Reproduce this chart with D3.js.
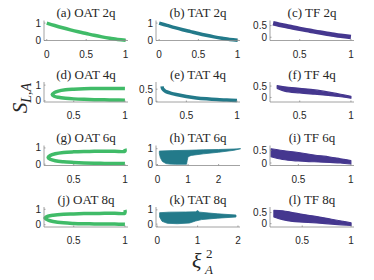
<!DOCTYPE html>
<html>
<head>
<meta charset="utf-8">
<script src="https://cdn.jsdelivr.net/npm/d3@7"></script>
<style>
  body { margin: 0; background: #fff; }
  svg { display: block; }
</style>
</head>
<body>
<svg id="chart" width="374" height="280"></svg>
<script>
// panel titles, row by row
var titles = ["(a) OAT 2q", "(b) TAT 2q", "(c) TF 2q",
              "(d) OAT 4q", "(e) TAT 4q", "(f) TF 4q",
              "(g) OAT 6q", "(h) TAT 6q", "(i) TF 6q",
              "(j) OAT 8q", "(k) TAT 8q", "(l) TF 8q"];

// axis limits and ticks
var xLims = [[-0.035, 1.03], [-0.04, 1.03], [0.21, 1.03],
             [0.21, 1.03], [0.2, 1.03], [0.21, 1.03],
             [0.21, 1.03], [-0.05, 2.7], [0.23, 1.03],
             [0.21, 1.03], [-0.03, 2.05], [0.17, 1.03]];
var yLims = [[0, 1.15], [0, 1.15], [-0.14, 0.72],
             [-0.08, 1.2], [-0.03, 0.8], [-0.2, 0.68],
             [-0.08, 1.15], [-0.05, 1.2], [-0.1, 0.7],
             [-0.15, 1.15], [-0.2, 1.2], [-0.15, 0.75]];
var xTicks = [[0, 0.5, 1], [0, 0.5, 1], [0.5, 1],
              [0.5, 1], [0.5, 1], [0.5, 1],
              [0.5, 1], [0, 1, 2], [0.5, 1],
              [0.5, 1], [0, 1, 2], [0.5, 1]];
var yTicks = [[0, 1], [0, 1], [0, 0.5],
              [0, 1], [0, 0.5], [0, 0.5],
              [0, 1], [0, 1], [0, 0.5],
              [0, 1], [0, 1], [0, 0.5]];

// (a) OAT 2q, (b) TAT 2q : single decaying curve
var oat2X = [0, 0.1, 0.2, 0.3, 0.4, 0.5, 0.6, 0.7, 0.8, 0.9, 1];
var oat2Y = [1.0, 0.86, 0.73, 0.61, 0.5, 0.4, 0.3, 0.21, 0.13, 0.06, 0.02];
var tat2X = [0, 0.1, 0.2, 0.3, 0.4, 0.5, 0.6, 0.7, 0.8, 0.9, 1];
var tat2Y = [1.0, 0.87, 0.74, 0.62, 0.51, 0.4, 0.3, 0.21, 0.13, 0.06, 0.02];
// (c) TF 2q
var tf2X = [0.24, 0.3, 0.4, 0.5, 0.6, 0.7, 0.8, 0.9, 1.0];
var tf2Y = [0.6, 0.54, 0.45, 0.36, 0.28, 0.2, 0.13, 0.06, 0.01];

// OAT 4q/6q/8q : sideways loop, upper branch then lower branch
var oat4X = [1, 0.9, 0.8, 0.7, 0.6, 0.5, 0.42, 0.35, 0.31, 0.29, 0.31, 0.35, 0.42, 0.5, 0.6, 0.7, 0.8, 0.9, 1];
var oat4Y = [0.78, 0.79, 0.79, 0.78, 0.77, 0.74, 0.7, 0.62, 0.52, 0.4, 0.29, 0.22, 0.16, 0.12, 0.09, 0.07, 0.06, 0.05, 0.04];
var oat6X = [1, 1, 0.9, 0.8, 0.7, 0.6, 0.5, 0.4, 0.32, 0.27, 0.25, 0.27, 0.32, 0.4, 0.5, 0.6, 0.7, 0.8, 0.9, 1];
var oat6Y = [0.95, 0.8, 0.8, 0.8, 0.79, 0.78, 0.76, 0.72, 0.64, 0.53, 0.41, 0.3, 0.21, 0.15, 0.11, 0.08, 0.06, 0.05, 0.05, 0.04];
var oat8X = [1, 1, 0.9, 0.8, 0.7, 0.6, 0.5, 0.4, 0.3, 0.25, 0.22, 0.25, 0.3, 0.4, 0.5, 0.6, 0.7, 0.8, 0.9, 1];
var oat8Y = [0.95, 0.75, 0.75, 0.74, 0.73, 0.72, 0.7, 0.68, 0.62, 0.55, 0.43, 0.3, 0.21, 0.12, 0.08, 0.06, 0.05, 0.04, 0.04, 0.03];

// (e) TAT 4q : hooked decay
var tat4X = [0.26, 0.265, 0.28, 0.3, 0.35, 0.4, 0.5, 0.6, 0.7, 0.8, 0.9, 1.0];
var tat4Y = [0.62, 0.53, 0.46, 0.4, 0.33, 0.28, 0.2, 0.14, 0.1, 0.07, 0.05, 0.03];

// (h) TAT 6q, (k) TAT 8q : filled regions, outline order
var tat6X = [0.06, 0.5, 1.0, 1.5, 2.0, 2.5, 2.72, 2.5, 2.0, 1.5, 1.1, 1.0, 0.97, 0.95, 0.6, 0.4, 0.28, 0.16, 0.09, 0.06];
var tat6Y = [0.85, 0.88, 0.9, 0.93, 0.95, 0.98, 1.0, 0.9, 0.78, 0.68, 0.58, 0.5, 0.25, 0.03, 0.03, 0.04, 0.07, 0.2, 0.45, 0.7];
var tat8X = [0.06, 0.3, 0.7, 0.95, 1.0, 1.05, 1.5, 1.95, 1.95, 1.5, 1.1, 0.95, 0.8, 0.5, 0.25, 0.12, 0.06];
var tat8Y = [0.8, 0.84, 0.85, 0.86, 0.95, 0.84, 0.72, 0.64, 0.5, 0.42, 0.32, 0.22, 0.08, 0.03, 0.06, 0.2, 0.5];

// TF 4q/6q/8q : dense bands, upper and lower edges
var tf4X = [0.28, 0.35, 0.5, 0.65, 0.8, 0.9, 1.0];
var tf4Up = [0.52, 0.47, 0.4, 0.33, 0.22, 0.14, 0.05];
var tf4Lo = [0.4, 0.28, 0.2, 0.14, 0.08, 0.03, -0.03];
var tf6X = [0.24, 0.35, 0.5, 0.65, 0.8, 0.9, 1.0];
var tf6Up = [0.57, 0.5, 0.42, 0.32, 0.24, 0.17, 0.1];
var tf6Lo = [0.25, 0.14, 0.08, 0.05, 0.02, 0.0, -0.04];
var tf8X = [0.21, 0.3, 0.4, 0.5, 0.65, 0.8, 0.9, 1.0];
var tf8Up = [0.6, 0.58, 0.5, 0.42, 0.32, 0.2, 0.12, 0.04];
var tf8Lo = [0.3, 0.18, 0.1, 0.07, 0.03, -0.02, -0.05, -0.08];

var green = "#40bb68", teal = "#237a8a", purple = "#45378f";

var panels = [
  {kind: "line", x: oat2X, y: oat2Y, c: green, w: 3.5},
  {kind: "line", x: tat2X, y: tat2Y, c: teal, w: 3.5},
  {kind: "line", x: tf2X, y: tf2Y, c: purple, w: 4.5},
  {kind: "line", x: oat4X, y: oat4Y, c: green, w: 3.5},
  {kind: "line", x: tat4X, y: tat4Y, c: teal, w: 3.5},
  {kind: "band", x: tf4X, up: tf4Up, lo: tf4Lo, c: purple},
  {kind: "line", x: oat6X, y: oat6Y, c: green, w: 3.5},
  {kind: "shape", x: tat6X, y: tat6Y, c: teal},
  {kind: "band", x: tf6X, up: tf6Up, lo: tf6Lo, c: purple},
  {kind: "line", x: oat8X, y: oat8Y, c: green, w: 3.5},
  {kind: "shape", x: tat8X, y: tat8Y, c: teal},
  {kind: "band", x: tf8X, up: tf8Up, lo: tf8Lo, c: purple}
];

var colLeft = [44, 156, 270], plotW = 84, plotH = 20;
var rowBottom = [40.5, 102, 165.5, 227];

var svg = d3.select("#chart");
var axisColor = "#8c8c8c", textColor = "#262626";
var serif = "'Liberation Serif', 'DejaVu Serif', serif";
var sans = "'Liberation Sans', Arial, sans-serif";

panels.forEach(function(p, i) {
  var col = i % 3, row = Math.floor(i / 3);
  var left = colLeft[col], bottom = rowBottom[row], top = bottom - plotH;
  var x = d3.scaleLinear().domain(xLims[i]).range([left, left + plotW]);
  var y = d3.scaleLinear().domain(yLims[i]).range([bottom, top]);
  var g = svg.append("g");

  if (p.kind === "line") {
    var pts = d3.zip(p.x, p.y);
    g.append("path")
      .attr("d", d3.line().x(d => x(d[0])).y(d => y(d[1])).curve(d3.curveCatmullRom)(pts))
      .attr("fill", "none").attr("stroke", p.c)
      .attr("stroke-width", p.w).attr("stroke-linecap", "butt");
  } else if (p.kind === "band") {
    var rows = p.x.map((v, k) => [v, p.up[k], p.lo[k]]);
    g.append("path")
      .attr("d", d3.area().x(d => x(d[0])).y0(d => y(d[2])).y1(d => y(d[1])).curve(d3.curveMonotoneX)(rows))
      .attr("fill", p.c).attr("stroke", p.c).attr("stroke-width", 1.2)
      .attr("stroke-linejoin", "round");
  } else {
    var outline = d3.zip(p.x, p.y);
    g.append("path")
      .attr("d", d3.line().x(d => x(d[0])).y(d => y(d[1])).curve(d3.curveLinearClosed)(outline))
      .attr("fill", p.c).attr("stroke", p.c).attr("stroke-width", 0.8)
      .attr("stroke-linejoin", "round");
  }

  // axes: left and bottom only, ticks inside
  g.append("line").attr("x1", left).attr("x2", left + plotW)
    .attr("y1", bottom).attr("y2", bottom).attr("stroke", axisColor).attr("stroke-width", 0.8);
  g.append("line").attr("x1", left).attr("x2", left)
    .attr("y1", top).attr("y2", bottom).attr("stroke", axisColor).attr("stroke-width", 0.8);

  xTicks[i].forEach(function(t) {
    g.append("line").attr("x1", x(t)).attr("x2", x(t))
      .attr("y1", bottom).attr("y2", bottom - 1.5).attr("stroke", axisColor).attr("stroke-width", 0.8);
    g.append("text").attr("x", x(t)).attr("y", bottom + 13.5)
      .attr("text-anchor", "middle").attr("dominant-baseline", "central")
      .attr("font-family", sans).attr("font-size", 10).attr("fill", textColor)
      .text(String(t));
  });
  yTicks[i].forEach(function(t) {
    g.append("line").attr("x1", left).attr("x2", left + 1.5)
      .attr("y1", y(t)).attr("y2", y(t)).attr("stroke", axisColor).attr("stroke-width", 0.8);
    g.append("text").attr("x", left - 3).attr("y", y(t))
      .attr("text-anchor", "end").attr("dominant-baseline", "central")
      .attr("font-family", sans).attr("font-size", 10).attr("fill", textColor)
      .text(String(t));
  });

  g.append("text").attr("x", left + plotW / 2).attr("y", top - 8)
    .attr("text-anchor", "middle").attr("dominant-baseline", "central")
    .attr("font-family", serif).attr("font-size", 13).attr("fill", textColor)
    .text(titles[i]);
});

// y label S_{L,A}
var yl = svg.append("text")
  .attr("transform", "translate(27,98) rotate(-90)")
  .attr("text-anchor", "middle")
  .attr("font-family", serif).attr("font-style", "italic").attr("fill", textColor);
yl.append("tspan").attr("font-size", 21).text("S");
yl.append("tspan").attr("font-size", 14).attr("dy", 4).text("L,A");

// x label xi_A^2
var xl = svg.append("g").attr("font-family", serif).attr("font-style", "italic").attr("fill", textColor);
xl.append("text").attr("x", 192).attr("y", 268).attr("font-size", 22).text("ξ");
xl.append("text").attr("x", 206).attr("y", 258).attr("font-size", 13).attr("font-style", "normal").text("2");
xl.append("text").attr("x", 205).attr("y", 274).attr("font-size", 13).text("A");
</script>
</body>
</html>
